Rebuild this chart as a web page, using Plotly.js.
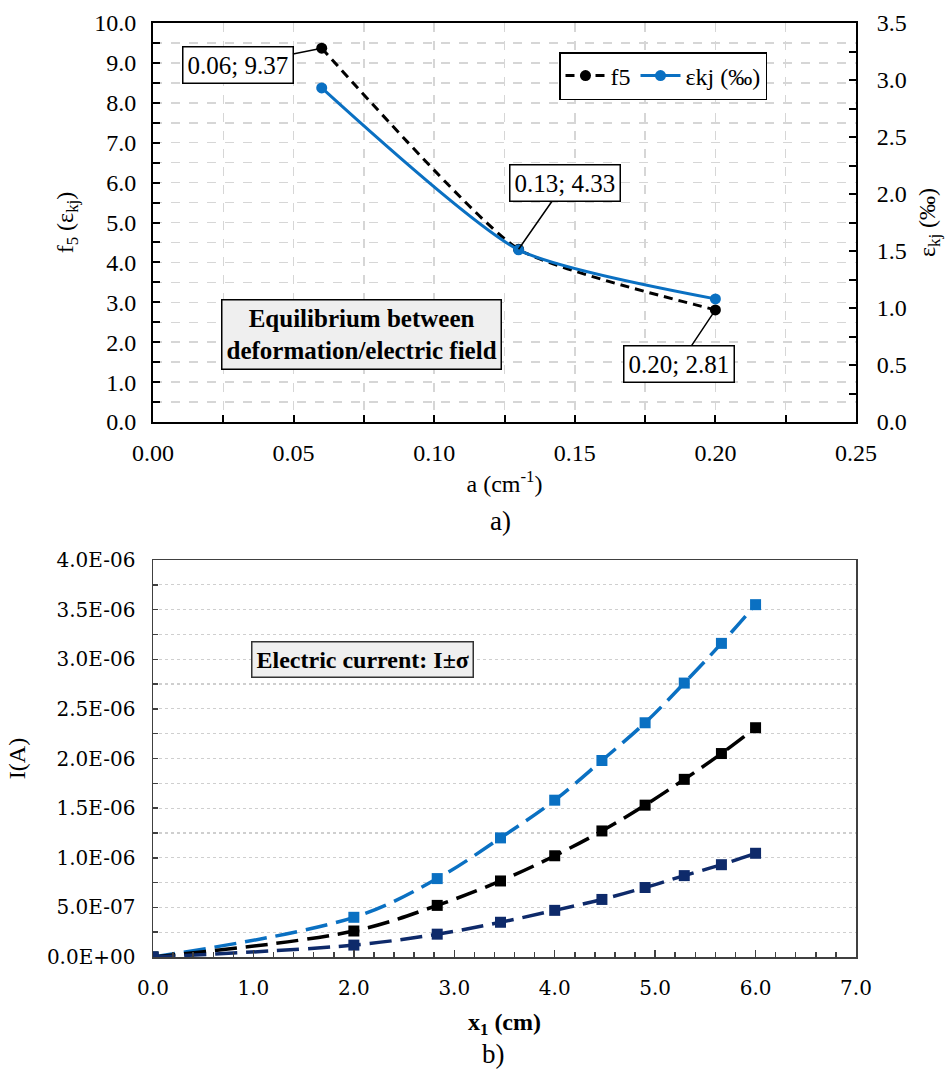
<!DOCTYPE html>
<html>
<head>
<meta charset="utf-8">
<script src="https://cdn.plot.ly/plotly-3.0.1.min.js"></script>
<style>html,body{margin:0;padding:0;background:#fff;}#chart{width:952px;height:1072px;}</style>
</head>
<body>
<div id="chart"></div>
<script>
// ---- Chart a) data ----
const aVals = [0.06, 0.13, 0.20];
const f5Vals = [9.37, 4.33, 2.81];
const ekjVals = [2.93, 1.51, 1.08];
const pointLabels = ["0.06; 9.37", "0.13; 4.33", "0.20; 2.81"];

// ---- Chart b) data ----
const x1Vals = [0, 2.0, 2.83, 3.46, 4.0, 4.47, 4.90, 5.29, 5.66, 6.0];
const iPlus  = [0, 0.40e-6, 0.79e-6, 1.20e-6, 1.58e-6, 1.98e-6, 2.36e-6, 2.76e-6, 3.16e-6, 3.55e-6];
const iMean  = [0, 0.262e-6, 0.52e-6, 0.766e-6, 1.02e-6, 1.27e-6, 1.53e-6, 1.79e-6, 2.05e-6, 2.31e-6];
const iMinus = [0, 0.12e-6, 0.23e-6, 0.35e-6, 0.47e-6, 0.58e-6, 0.70e-6, 0.82e-6, 0.93e-6, 1.045e-6];
const iTickVals = [0, 0.5e-6, 1.0e-6, 1.5e-6, 2.0e-6, 2.5e-6, 3.0e-6, 3.5e-6, 4.0e-6];
const iTickText = ["0.0E+00", "5.0E-07", "1.0E-06", "1.5E-06", "2.0E-06", "2.5E-06", "3.0E-06", "3.5E-06", "4.0E-06"];

const SERIF = "Liberation Serif";
const SERIF_B = "DejaVu Serif";
const BLUE = "#0A70C2";
const NAVY = "#0E2A6A";

const traces = [
  {x: aVals, y: f5Vals, name: "f5", type: "scatter", mode: "lines+markers",
   xaxis: "x", yaxis: "y",
   line: {color: "#000", width: 3, dash: "9px,6px", shape: "spline", smoothing: 0.5},
   marker: {color: "#000", size: 11, symbol: "circle"}},
  {x: aVals, y: ekjVals, name: "εkj (‰)", type: "scatter", mode: "lines+markers",
   xaxis: "x", yaxis: "y2",
   line: {color: BLUE, width: 3, shape: "spline", smoothing: 0.6},
   marker: {color: BLUE, size: 11, symbol: "circle"}},
  {x: x1Vals, y: iPlus, name: "I+σ", type: "scatter", mode: "lines+markers", showlegend: false,
   xaxis: "x2", yaxis: "y3",
   line: {color: BLUE, width: 3.5, dash: "22px,9px", shape: "spline", smoothing: 1},
   marker: {color: BLUE, size: 11, symbol: "square"}},
  {x: x1Vals, y: iMean, name: "I", type: "scatter", mode: "lines+markers", showlegend: false,
   xaxis: "x2", yaxis: "y3",
   line: {color: "#000", width: 3.5, dash: "22px,9px", shape: "spline", smoothing: 1},
   marker: {color: "#000", size: 11, symbol: "square"}},
  {x: x1Vals, y: iMinus, name: "I−σ", type: "scatter", mode: "lines+markers", showlegend: false,
   xaxis: "x2", yaxis: "y3",
   line: {color: NAVY, width: 3.5, dash: "22px,9px", shape: "spline", smoothing: 1},
   marker: {color: NAVY, size: 11, symbol: "square"}}
];

const gridTop = "#d6d6d6";
const gridBot = "#cfcfcf";
const xDom = [153/952, 856/952];

const layout = {
  width: 952, height: 1072, autosize: false,
  margin: {l: 0, r: 0, t: 0, b: 0},
  paper_bgcolor: "#fff", plot_bgcolor: "#fff",
  font: {family: SERIF, size: 24, color: "#000"},
  showlegend: true,
  legend: {orientation: "h", x: 559/952, y: 1 - 52/1072, xanchor: "left", yanchor: "top",
    bgcolor: "#fff", bordercolor: "#000", borderwidth: 1.5,
    font: {family: SERIF, size: 24, color: "#000"}, itemwidth: 40, tracegroupgap: 0},
  xaxis: {domain: xDom, anchor: "y", range: [0, 0.25], dtick: 0.05, tick0: 0, tickformat: ".2f",
    showline: true, linecolor: "#000", linewidth: 2, mirror: true,
    ticks: "inside", ticklen: 7, tickwidth: 2, tickcolor: "#000",
    showgrid: true, gridcolor: gridTop, gridwidth: 1.5, griddash: "dash", zeroline: false,
    minor: {dtick: 0.025, tick0: 0, ticks: "inside", ticklen: 7, tickwidth: 2, tickcolor: "#000",
      showgrid: true, gridcolor: gridTop, gridwidth: 1.5, griddash: "dash"},
    tickfont: {family: SERIF, size: 24}, ticklabelstandoff: 8,
    title: {text: "a (cm<sup>-1</sup>)", font: {family: SERIF, size: 24}, standoff: 10}},
  yaxis: {domain: [1 - 422/1072, 1 - 23/1072], anchor: "x", range: [0, 10], dtick: 1, tick0: 0, tickformat: ".1f",
    showline: true, linecolor: "#000", linewidth: 2,
    ticks: "inside", ticklen: 7, tickwidth: 2, tickcolor: "#000",
    showgrid: true, gridcolor: gridTop, gridwidth: 1.5, griddash: "dash", zeroline: false,
    minor: {dtick: 0.5, tick0: 0, ticks: "inside", ticklen: 7, tickwidth: 2, tickcolor: "#000",
      showgrid: true, gridcolor: gridTop, gridwidth: 1.5, griddash: "dash"},
    tickfont: {family: SERIF, size: 24}, ticklabelstandoff: 10,
    title: {text: "f<sub>5</sub> (ε<sub>kj</sub>)", font: {family: SERIF, size: 24}, standoff: 14}},
  yaxis2: {overlaying: "y", side: "right", anchor: "x", range: [0, 3.5], dtick: 0.5, tick0: 0, tickformat: ".1f",
    showline: true, linecolor: "#000", linewidth: 2,
    ticks: "inside", ticklen: 7, tickwidth: 2, tickcolor: "#000",
    showgrid: false, zeroline: false,
    minor: {dtick: 0.25, tick0: 0, ticks: "inside", ticklen: 7, tickwidth: 2, tickcolor: "#000", showgrid: false},
    tickfont: {family: SERIF, size: 24}, ticklabelstandoff: 14,
    title: {text: "ε<sub>kj</sub> (‰)", font: {family: SERIF, size: 24}, standoff: 12}},
  xaxis2: {domain: xDom, anchor: "y3", range: [0, 7], dtick: 1, tick0: 0, tickformat: ".1f",
    showline: true, linecolor: "#404040", linewidth: 1.5, mirror: true,
    ticks: "inside", ticklen: 7, tickwidth: 1.5, tickcolor: "#404040",
    showgrid: false, zeroline: false,
    minor: {dtick: 0.2, tick0: 0, ticks: "inside", ticklen: 5, tickwidth: 1.5, tickcolor: "#404040", showgrid: false},
    tickfont: {family: SERIF_B, size: 20}, ticklabelstandoff: 12,
    title: {text: "<b>x<sub>1</sub> (cm)</b>", font: {family: SERIF, size: 24}, standoff: 14}},
  yaxis3: {domain: [1 - 957/1072, 1 - 560/1072], anchor: "x2", range: [0, 4e-6],
    tickmode: "array", tickvals: iTickVals, ticktext: iTickText,
    showline: true, linecolor: "#404040", linewidth: 1.5, mirror: true,
    ticks: "inside", ticklen: 5, tickwidth: 1.5, tickcolor: "#404040",
    showgrid: true, gridcolor: gridBot, gridwidth: 1.2, griddash: "dot", zeroline: false,
    minor: {tickmode: "linear", tick0: 0, dtick: 0.25e-6, ticks: "inside", ticklen: 5, tickwidth: 1.5, tickcolor: "#404040",
      showgrid: true, gridcolor: gridBot, gridwidth: 1.2, griddash: "dot"},
    tickfont: {family: SERIF_B, size: 20}, ticklabelstandoff: 12,
    title: {text: "I(A)", font: {family: SERIF, size: 24}, standoff: 14}},
  annotations: [
    {xref: "x", yref: "y", x: aVals[0], y: f5Vals[0], text: pointLabels[0], showarrow: true,
     arrowhead: 0, arrowwidth: 1.5, arrowcolor: "#000", ax: -84, ay: 17,
     bordercolor: "#000", borderwidth: 1.5, borderpad: 4, bgcolor: "#fff",
     font: {family: SERIF, size: 25}},
    {xref: "x", yref: "y", x: aVals[1], y: f5Vals[1], text: pointLabels[1], showarrow: true,
     arrowhead: 0, arrowwidth: 1.5, arrowcolor: "#000", ax: 46, ay: -66,
     bordercolor: "#000", borderwidth: 1.5, borderpad: 4, bgcolor: "#fff",
     font: {family: SERIF, size: 25}},
    {xref: "x", yref: "y", x: aVals[2], y: f5Vals[2], text: pointLabels[2], showarrow: true,
     arrowhead: 0, arrowwidth: 1.5, arrowcolor: "#000", ax: -36, ay: 54,
     bordercolor: "#000", borderwidth: 1.5, borderpad: 4, bgcolor: "#fff",
     font: {family: SERIF, size: 25}},
    {xref: "paper", yref: "paper", x: 361.5/952, y: 1 - 334.5/1072, xanchor: "center", yanchor: "middle",
     text: "<b>Equilibrium between<br>deformation/electric field</b>", showarrow: false,
     bordercolor: "#000", borderwidth: 1.5, borderpad: 4, bgcolor: "#efefef",
     font: {family: SERIF, size: 25}},
    {xref: "paper", yref: "paper", x: 362.5/952, y: 1 - 659/1072, xanchor: "center", yanchor: "middle",
     text: "<b>Electric current: I±σ</b>", showarrow: false,
     bordercolor: "#333", borderwidth: 1.5, borderpad: 4, bgcolor: "#efefef",
     font: {family: SERIF, size: 24}},
    {xref: "paper", yref: "paper", x: 500/952, y: 1 - 521/1072, xanchor: "center", yanchor: "middle",
     text: "a)", showarrow: false, font: {family: SERIF, size: 27}},
    {xref: "paper", yref: "paper", x: 493/952, y: 1 - 1054/1072, xanchor: "center", yanchor: "middle",
     text: "b)", showarrow: false, font: {family: SERIF, size: 27}}
  ]
};

Plotly.newPlot("chart", traces, layout, {staticPlot: true, displayModeBar: false});
</script>
</body>
</html>
